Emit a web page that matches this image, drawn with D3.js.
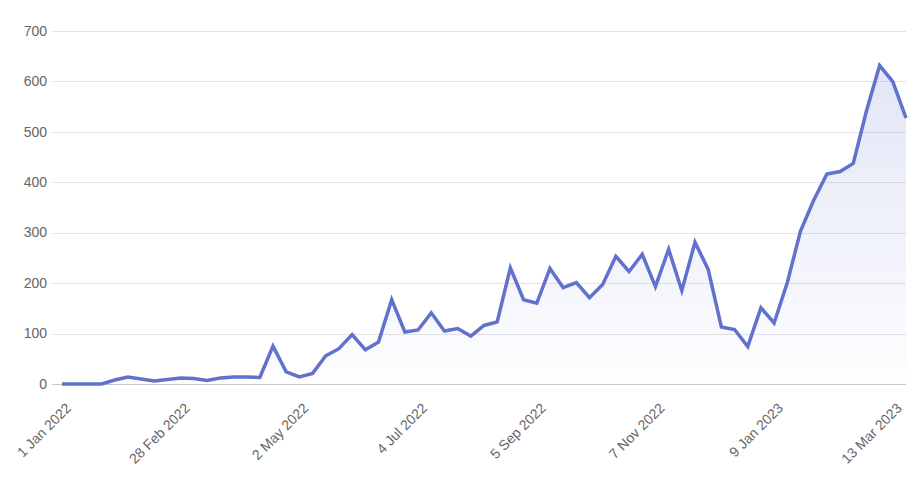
<!DOCTYPE html>
<html>
<head>
<meta charset="utf-8">
<script src="https://cdn.jsdelivr.net/npm/d3@7"></script>
<style>
  html, body { margin: 0; padding: 0; background: #fff; }
  svg { display: block; }
  text { font-family: "Liberation Sans", Arial, Helvetica, sans-serif; }
</style>
</head>
<body>
<svg id="chart" width="920" height="498"></svg>
<script>
// Weekly categories starting 1 Jan 2022 (partial week), then Mondays from 3 Jan 2022
const startDate = "2022-01-01";
const firstMonday = "2022-01-03";
const values = [
  0, 0, 0, 0, 8, 14, 10, 6, 9, 12,
  11, 7, 12, 14, 14, 13, 75, 24, 14, 21,
  56, 70, 98, 68, 83, 167, 103, 107, 141, 105,
  110, 95, 116, 123, 230, 167, 160, 229, 191, 201,
  171, 197, 253, 223, 257, 193, 267, 185, 281, 227,
  113, 108, 74, 151, 121, 201, 303, 364, 416, 421,
  437, 541, 631, 599, 527
];
const yTicks = [0, 100, 200, 300, 400, 500, 600, 700];
const labelEvery = 9;

const parse = d3.utcParse("%Y-%m-%d");
const fmt = d3.utcFormat("%-d %b %Y");
const dates = values.map((v, i) => i === 0 ? parse(startDate) : d3.utcWeek.offset(parse(firstMonday), i - 1));
const categories = dates.map(d => fmt(d));
const data = values.map((v, i) => ({ cat: categories[i], v }));

const svg = d3.select("#chart");
const x = d3.scalePoint().domain(categories).range([62, 906]);
const y = d3.scaleLinear().domain([0, 700]).range([384, 30.7]);

const lineColor = "#6171cc";

// gradient
const defs = svg.append("defs");
const grad = defs.append("linearGradient")
  .attr("id", "areaGrad").attr("gradientUnits", "userSpaceOnUse")
  .attr("x1", 0).attr("x2", 0).attr("y1", y(700)).attr("y2", y(0));
grad.append("stop").attr("offset", "0%").attr("stop-color", lineColor).attr("stop-opacity", 0.2);
grad.append("stop").attr("offset", "100%").attr("stop-color", lineColor).attr("stop-opacity", 0.01);

// grid lines
svg.append("g").selectAll("line").data(yTicks).join("line")
  .attr("x1", 52).attr("x2", 906)
  .attr("y1", d => Math.round(y(d)) + 0.5).attr("y2", d => Math.round(y(d)) + 0.5)
  .attr("stroke", d => d === 0 ? "#c8c8c8" : "#e4e4e4")
  .attr("stroke-width", 1);

// y labels
svg.append("g").selectAll("text").data(yTicks).join("text")
  .attr("x", 47).attr("y", d => y(d))
  .attr("text-anchor", "end").attr("dy", "0.35em")
  .attr("font-size", 14).attr("fill", "#666")
  .text(d => d);

// area
const area = d3.area().x(d => x(d.cat)).y0(y(0)).y1(d => y(d.v));
svg.append("path").datum(data).attr("d", area).attr("fill", "url(#areaGrad)");

// line
const line = d3.line().x(d => x(d.cat)).y(d => y(d.v));
svg.append("path").datum(data).attr("d", line)
  .attr("fill", "none").attr("stroke", lineColor)
  .attr("stroke-width", 3.5).attr("stroke-linejoin", "miter").attr("stroke-linecap", "butt");

// x labels
const labelCats = categories.filter((c, i) => i % labelEvery === 0);
svg.append("g").selectAll("text").data(labelCats).join("text")
  .attr("transform", d => `translate(${x(d) + 10},${409}) rotate(-45)`)
  .attr("text-anchor", "end")
  .attr("font-size", 14).attr("fill", "#666")
  .text(d => d);
</script>
</body>
</html>
